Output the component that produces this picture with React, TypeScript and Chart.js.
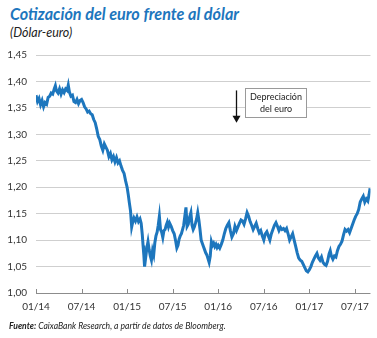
import React, { useEffect, useRef } from "react";
import { Chart, registerables } from "chart.js";

Chart.register(...registerables);

// Months elapsed since January 2014 (fractional)
const months: number[] = [
  0, 0.2, 0.4, 0.6, 0.8, 1.0, 1.2, 1.4, 1.6, 1.8, 2.0, 2.2, 2.4, 2.55, 2.7, 2.9, 3.1, 3.3, 3.5, 3.7, 3.9, 4.1, 4.25, 4.4, 4.6, 4.8,
  5.0, 5.2, 5.4, 5.6, 5.8, 6.0, 6.2, 6.4, 6.6, 6.8, 7.0, 7.2, 7.4, 7.6, 7.8, 8.0, 8.2, 8.4, 8.6, 8.8, 9.0, 9.2, 9.4, 9.6, 9.8,
  10.0, 10.2, 10.4, 10.6, 10.8, 11.0, 11.2, 11.4, 11.6, 11.8, 12.0, 12.15, 12.3, 12.45, 12.6, 12.75, 12.9, 13.1, 13.3, 13.5,
  13.7, 13.85, 14.0, 14.1, 14.2, 14.3, 14.45, 14.6, 14.75, 14.9, 15.05, 15.2, 15.35, 15.5, 15.65, 15.8, 15.95, 16.1, 16.25,
  16.4, 16.55, 16.7, 16.85, 17.0, 17.15, 17.3, 17.45, 17.6, 17.8, 18.0, 18.2, 18.4, 18.55, 18.7, 18.85, 19.0, 19.15, 19.3,
  19.45, 19.6, 19.75, 19.9, 20.05, 20.2, 20.4, 20.55, 20.7, 20.85, 21.0, 21.15, 21.3, 21.45, 21.6, 21.75, 21.9, 22.05, 22.2,
  22.35, 22.5, 22.65, 22.8, 22.95, 23.1, 23.25, 23.4, 23.55, 23.7, 23.85, 24.0, 24.2, 24.4, 24.6, 24.8, 25.0, 25.2, 25.4,
  25.6, 25.8, 26.0, 26.2, 26.4, 26.6, 26.8, 27.0, 27.2, 27.4, 27.6, 27.8, 28.0, 28.2, 28.4, 28.6, 28.8, 29.0, 29.2, 29.4,
  29.6, 29.8, 30.0, 30.2, 30.4, 30.6, 30.8, 31.0, 31.2, 31.4, 31.6, 31.8, 32.0, 32.2, 32.4, 32.6, 32.8, 33.0, 33.2, 33.4,
  33.6, 33.8, 34.0, 34.2, 34.4, 34.6, 34.8, 35.0, 35.2, 35.4, 35.6, 35.8, 36.0, 36.2, 36.4, 36.6, 36.8, 37.0, 37.2, 37.4,
  37.6, 37.8, 38.0, 38.2, 38.4, 38.6, 38.75, 38.9, 39.1, 39.3, 39.5, 39.7, 39.9, 40.1, 40.3, 40.5, 40.7, 40.9, 41.1, 41.3,
  41.5, 41.7, 41.9, 42.1, 42.3, 42.5, 42.7, 42.9, 43.1, 43.3, 43.5, 43.7, 43.85, 44.0,
];

// Dollars per euro
const rates: number[] = [
  1.374, 1.362, 1.368, 1.356, 1.364, 1.352, 1.36, 1.357, 1.37, 1.372, 1.378, 1.376, 1.386, 1.392, 1.382, 1.378, 1.386, 1.376,
  1.384, 1.379, 1.386, 1.383, 1.393, 1.38, 1.372, 1.374,
  1.362, 1.36, 1.366, 1.358, 1.364, 1.366, 1.36, 1.352, 1.348, 1.342, 1.344, 1.339, 1.337, 1.328, 1.322, 1.31, 1.296, 1.29,
  1.278, 1.27, 1.282, 1.276, 1.27, 1.258, 1.264,
  1.252, 1.258, 1.248, 1.256, 1.246, 1.25, 1.24, 1.232, 1.226, 1.212, 1.2, 1.186, 1.17, 1.155, 1.125, 1.135, 1.142, 1.136,
  1.144, 1.135,
  1.14, 1.132, 1.11, 1.09, 1.072, 1.05, 1.068, 1.085, 1.097, 1.082, 1.07, 1.062, 1.08, 1.072, 1.095, 1.108, 1.115, 1.128, 1.145,
  1.12, 1.115, 1.105, 1.118, 1.12, 1.128, 1.134, 1.125, 1.132, 1.126, 1.118, 1.112, 1.098, 1.085, 1.09, 1.102, 1.108, 1.112,
  1.12,
  1.128, 1.145, 1.162, 1.126, 1.13, 1.142, 1.152, 1.128, 1.12, 1.125, 1.132, 1.14, 1.152, 1.138, 1.12, 1.1, 1.094, 1.088, 1.082,
  1.076, 1.072, 1.065, 1.058, 1.07, 1.097, 1.09, 1.094, 1.088, 1.092, 1.086, 1.09, 1.085, 1.092, 1.1, 1.112, 1.122, 1.128, 1.133,
  1.118, 1.106, 1.112, 1.126, 1.118, 1.125, 1.132, 1.138, 1.136, 1.13, 1.14, 1.152, 1.145, 1.135, 1.128, 1.12, 1.126, 1.132,
  1.122, 1.114,
  1.118, 1.108, 1.1, 1.112, 1.116, 1.108, 1.1, 1.112, 1.12, 1.128, 1.133, 1.126, 1.118, 1.124, 1.12, 1.122, 1.118, 1.122, 1.112,
  1.1,
  1.106, 1.112, 1.1, 1.088, 1.076, 1.066, 1.062, 1.06, 1.054, 1.048, 1.042, 1.04, 1.044, 1.05, 1.058, 1.064, 1.07, 1.075, 1.066,
  1.062,
  1.068, 1.058, 1.054, 1.052, 1.06, 1.074, 1.08, 1.07, 1.064, 1.07, 1.068, 1.08, 1.088, 1.092, 1.098, 1.11, 1.12, 1.117, 1.12,
  1.114,
  1.122, 1.13, 1.138, 1.145, 1.15, 1.158, 1.172, 1.178, 1.183, 1.172, 1.178, 1.174, 1.185, 1.198,
];

const xTickMonths: number[] = [0, 6, 12, 18, 24, 30, 36, 42];
const xTickLabels: string[] = ["01/14", "07/14", "01/15", "07/15", "01/16", "07/16", "01/17", "07/17"];

const title = "Cotización del euro frente al dólar";
const subtitle = "(Dólar-euro)";
const annotationLines: string[] = ["Depreciación", "del euro"];

const FONT = "Lato, 'Open Sans', sans-serif";
const BLUE = "#1d76bd";

export default function App() {
  const canvasRef = useRef<HTMLCanvasElement | null>(null);

  useEffect(() => {
    const canvas = canvasRef.current;
    if (!canvas) return;

    const overlay = {
      id: "overlay",
      afterDraw(chart: any) {
        const { ctx, scales } = chart;
        const xs = scales.x;
        const ys = scales.y;
        ctx.save();
        // tick marks on the baseline
        ctx.strokeStyle = "#8a8a8a";
        ctx.lineWidth = 1;
        xTickMonths.forEach((m) => {
          const px = Math.round(xs.getPixelForValue(m)) + 0.5;
          ctx.beginPath();
          ctx.moveTo(px, ys.bottom);
          ctx.lineTo(px, ys.bottom - 4);
          ctx.stroke();
        });
        // annotation arrow
        const ax = Math.round(xs.getPixelForValue(26.3)) + 0.5;
        const ay1 = ys.getPixelForValue(1.383);
        const ay2 = ys.getPixelForValue(1.322);
        ctx.strokeStyle = "#111";
        ctx.fillStyle = "#111";
        ctx.lineWidth = 1.3;
        ctx.beginPath();
        ctx.moveTo(ax, ay1);
        ctx.lineTo(ax, ay2 - 6);
        ctx.stroke();
        ctx.beginPath();
        ctx.moveTo(ax - 4, ay2 - 7);
        ctx.lineTo(ax + 4, ay2 - 7);
        ctx.lineTo(ax, ay2);
        ctx.closePath();
        ctx.fill();
        // annotation box
        const bx1 = Math.round(xs.getPixelForValue(27.5)) + 0.5;
        const bx2 = Math.round(xs.getPixelForValue(35.6)) + 0.5;
        const by1 = Math.round(ys.getPixelForValue(1.387)) + 0.5;
        const by2 = Math.round(ys.getPixelForValue(1.332)) + 0.5;
        ctx.fillStyle = "#fff";
        ctx.fillRect(bx1, by1, bx2 - bx1, by2 - by1);
        ctx.strokeStyle = "#9a9a9a";
        ctx.lineWidth = 1;
        ctx.strokeRect(bx1, by1, bx2 - bx1, by2 - by1);
        ctx.fillStyle = "#222";
        ctx.font = `9px ${FONT}`;
        ctx.textAlign = "center";
        ctx.textBaseline = "middle";
        const cx = (bx1 + bx2) / 2;
        const cy = (by1 + by2) / 2;
        ctx.fillText(annotationLines[0], cx, cy - 6);
        ctx.fillText(annotationLines[1], cx, cy + 6);
        ctx.restore();
      },
    };

    const chart = new Chart(canvas, {
      type: "line",
      data: {
        datasets: [
          {
            data: months.map((m, i) => ({ x: m, y: rates[i] })),
            borderColor: BLUE,
            borderWidth: 3,
            pointRadius: 0,
            tension: 0,
            fill: false,
          },
        ],
      },
      options: {
        animation: false,
        responsive: false,
        maintainAspectRatio: false,
        events: [],
        layout: { padding: { top: 55, right: 5, left: 0, bottom: 17 } },
        plugins: { legend: { display: false }, tooltip: { enabled: false }, title: { display: false } },
        scales: {
          x: {
            type: "linear",
            min: 0,
            max: 44.05,
            afterBuildTicks: (scale: any) => {
              scale.ticks = xTickMonths.map((v) => ({ value: v }));
            },
            afterFit: (scale: any) => {
              scale.height = 28;
            },
            grid: { display: false, drawTicks: false },
            border: { display: false },
            ticks: {
              padding: 8,
              maxRotation: 0,
              autoSkip: false,
              color: "#333",
              font: { family: FONT, size: 10 },
              callback: (v: any) => {
                const i = xTickMonths.indexOf(Number(v));
                return i >= 0 ? xTickLabels[i] : "";
              },
            },
          },
          y: {
            min: 1.0,
            max: 1.45,
            afterFit: (scale: any) => {
              scale.width = 36;
            },
            grid: {
              drawTicks: false,
              color: (c: any) => (Math.abs(c.tick.value - 1.0) < 1e-6 ? "#8c8c8c" : "#cfcfcf"),
              lineWidth: 1,
            },
            border: { display: false },
            ticks: {
              stepSize: 0.05,
              padding: 9,
              color: "#333",
              font: { family: FONT, size: 10 },
              callback: (v: any) => Number(v).toFixed(2).replace(".", ","),
            },
          },
        },
      },
      plugins: [overlay],
    });

    return () => chart.destroy();
  }, []);

  return (
    <div
      style={{
        position: "fixed",
        left: 0,
        top: 0,
        width: 377,
        height: 338,
        background: "#fff",
        fontFamily: FONT,
        overflow: "hidden",
      }}
    >
      <div
        style={{
          position: "absolute",
          left: 10,
          top: 4,
          fontSize: 16.2,
          fontWeight: 700,
          fontStyle: "italic",
          color: BLUE,
          whiteSpace: "nowrap",
          lineHeight: "19px",
        }}
      >
        {title}
      </div>
      <div
        style={{
          position: "absolute",
          left: 10,
          top: 25,
          fontSize: 12.5,
          fontStyle: "italic",
          color: "#222",
          whiteSpace: "nowrap",
          lineHeight: "15px",
        }}
      >
        {subtitle}
      </div>
      <canvas
        ref={canvasRef}
        width={377}
        height={338}
        style={{ position: "absolute", left: 0, top: 0, width: 377, height: 338 }}
      />
      <div
        style={{
          position: "absolute",
          left: 9,
          top: 321,
          fontSize: 8.6,
          fontStyle: "italic",
          color: "#222",
          whiteSpace: "nowrap",
          lineHeight: "11px",
        }}
      >
        <b>Fuente:</b> CaixaBank Research, a partir de datos de Bloomberg.
      </div>
    </div>
  );
}
